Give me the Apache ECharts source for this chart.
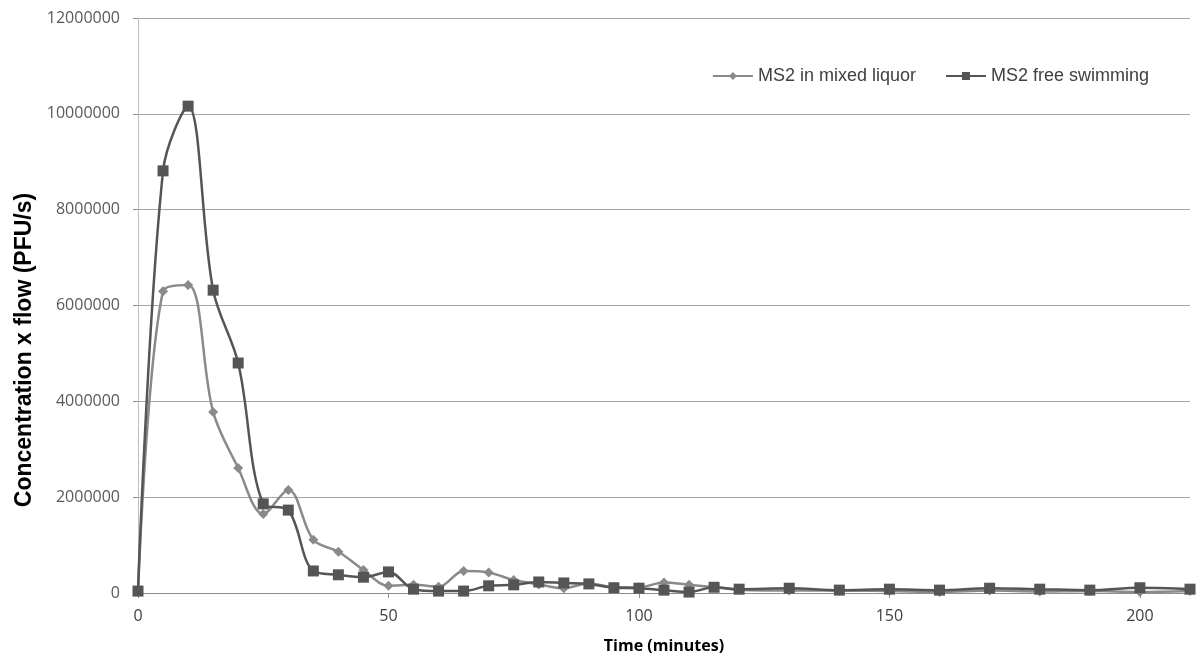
<!DOCTYPE html>
<html>
<head>
<meta charset="utf-8">
<script src="https://cdn.jsdelivr.net/npm/echarts@6/dist/echarts.min.js"></script>
<style>html,body{margin:0;padding:0;background:#fff;}#c{width:1197px;height:661px;}</style>
</head>
<body>
<div id="c"></div>
<script>
var times = [0,5,10,15,20,25,30,35,40,45,50,55,60,65,70,75,80,85,90,95,100,105,110,115,120,130,140,150,160,170,180,190,200,210];
var mixedLiquor = [30000,6300000,6430000,3780000,2610000,1650000,2150000,1110000,860000,480000,150000,170000,130000,460000,430000,270000,180000,100000,200000,120000,120000,220000,170000,120000,70000,50000,50000,40000,20000,50000,30000,40000,20000,40000];
var freeSwimming = [40000,8810000,10160000,6320000,4800000,1860000,1730000,460000,380000,330000,440000,80000,40000,40000,150000,170000,230000,210000,190000,110000,100000,60000,20000,120000,80000,100000,60000,80000,60000,100000,80000,60000,110000,80000];
var xTicks = [0,50,100,150,200];
var seriesNames = ['MS2 in mixed liquor','MS2 free swimming'];
var yTitle = 'Concentration x flow (PFU/s)';
var xTitle = 'Time (minutes)';

function pairs(v){ return times.map(function(t,i){ return [t, v[i]]; }); }

var chart = echarts.init(document.getElementById('c'));
chart.setOption({
  animation: false,
  backgroundColor: '#ffffff',
  grid: {left: 138, right: 7, top: 18, bottom: 68},
  legend: {
    top: 62, right: 43, itemGap: 29, itemWidth: 40, itemHeight: 10,
    textStyle: {fontFamily: 'Liberation Sans, Arial', fontSize: 18, color: '#404040'},
    data: seriesNames
  },
  graphic: [{
    type: 'text', x: 25, y: 350, rotation: Math.PI / 2,
    style: {text: yTitle, font: 'bold 23px "Liberation Sans", Arial', fill: '#000',
      align: 'center', verticalAlign: 'middle', textAlign: 'center', textVerticalAlign: 'middle'}
  }],
  xAxis: {
    type: 'value', min: 0, max: 210, interval: 50,
    name: xTitle, nameLocation: 'middle', nameGap: 45,
    nameTextStyle: {fontFamily: 'Open Sans', fontWeight: 'bold', fontSize: 16, color: '#000'},
    axisLine: {lineStyle: {color: '#8c8c8c', width: 1}},
    axisTick: {show: true, length: 5, lineStyle: {color: '#8c8c8c'}},
    axisLabel: {fontFamily: 'Open Sans', fontSize: 16, color: '#404040', margin: 15, showMaxLabel: false},
    splitLine: {show: false}
  },
  yAxis: {
    type: 'value', min: 0, max: 12000000, interval: 2000000,
    axisLine: {show: true, lineStyle: {color: '#bfbfbf', width: 1}},
    axisTick: {show: true, length: 5, lineStyle: {color: '#8c8c8c'}},
    axisLabel: {fontFamily: 'Open Sans', fontSize: 16, color: '#595959', margin: 18,
      formatter: function(v){ return String(v); }},
    splitLine: {show: true, lineStyle: {color: '#a6a6a6', width: 1}}
  },
  series: [
    {
      name: seriesNames[0], type: 'line', smooth: 0.35,
      data: pairs(mixedLiquor),
      symbol: 'diamond', symbolSize: 10, showAllSymbol: true,
      lineStyle: {color: '#8a8a8a', width: 2.5},
      itemStyle: {color: '#8a8a8a'},
      z: 2
    },
    {
      name: seriesNames[1], type: 'line', smooth: 0.35,
      data: pairs(freeSwimming),
      symbol: 'rect', symbolSize: 11, showAllSymbol: true,
      lineStyle: {color: '#555555', width: 2.5},
      itemStyle: {color: '#555555'},
      z: 3
    }
  ]
});
</script>
</body>
</html>
